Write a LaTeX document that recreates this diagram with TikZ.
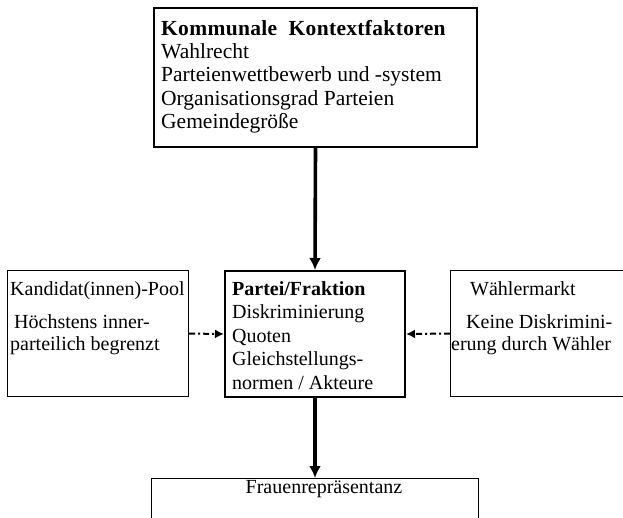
\documentclass[tikz,border=0pt]{standalone}
\usepackage{fontspec}
\setmainfont{Liberation Serif}
\usetikzlibrary{arrows.meta, positioning, calc}

\begin{document}
\begin{tikzpicture}[x=1pt, y=-1pt,
  every node/.style={font=\fontsize{20}{22.5}\selectfont},
  mainbox/.style={draw, line width=2pt, inner sep=0pt, anchor=north west},
  sidebox/.style={draw, line width=1.1pt, inner sep=0pt, anchor=north west},
  resbox/.style={draw, line width=1.4pt, inner sep=0pt, anchor=north west},
  txt/.style={anchor=north west, align=left, inner sep=0pt},
  mainarrow/.style={line width=3.6pt, -{Latex[length=12pt, width=12pt]}},
  dasharrow/.style={line width=2pt, dash pattern=on 6pt off 3pt on 2pt off 3pt, -{Latex[length=9pt, width=9pt]}}]

  \useasboundingbox (0,0) rectangle (623,518);
  \clip (0,0) rectangle (623,518);

  % Kommunale Kontextfaktoren
  \node[mainbox, minimum width=323pt, minimum height=139pt] (context) at (153,7) {};
  \node[txt, font=\fontsize{21.5}{23.3}\selectfont] (context-text) at (161,20) {
    {\bfseries\addfontfeatures{LetterSpace=1.5}Kommunale\ \ Kontextfaktoren}\\
    Wahlrecht\\
    Parteienwettbewerb und -system\\
    Organisationsgrad Parteien\\
    Gemeindegröße};

  % Partei/Fraktion
  \node[mainbox, minimum width=180pt, minimum height=126pt] (party) at (224,270) {};
  \node[txt, font=\fontsize{20}{23.5}\selectfont] (party-text) at (232,281) {
    \textbf{Partei/Fraktion}\\
    Diskriminierung\\
    Quoten\\
    Gleichstellungs-\\
    normen / Akteure};

  % Kandidat(innen)-Pool
  \node[sidebox, minimum width=181pt, minimum height=126pt] (pool) at (7,270) {};
  \node[txt, font=\fontsize{20}{21.5}\selectfont] (pool-text) at (10,281) {
    Kandidat(innen)-Pool\\[12pt]
    \hspace{4pt}Höchstens inner-\\
    parteilich begrenzt};

  % Waehlermarkt
  \node[sidebox, minimum width=220pt, minimum height=126pt] (market) at (450,270) {};
  \node[txt, font=\fontsize{20}{21.5}\selectfont] (market-text) at (451,281) {
    \hspace{19pt}Wählermarkt\\[12pt]
    \hspace{15pt}Keine Diskrimini-\\
    erung durch Wähler};

  % Frauenrepraesentanz
  \node[resbox, minimum width=327pt, minimum height=80pt] (rep) at (151,478) {};
  \node (rep-text) at (324,489) {Frauenrepräsentanz};

  % Arrows
  \draw[mainarrow] (context.south) -- (party.north);
  \draw[mainarrow] (party.south) -- (party.south |- rep.north);
  \draw[dasharrow] (pool.east) -- (party.west);
  \draw[dasharrow] (market.west) -- (party.east);
\end{tikzpicture}
\end{document}
